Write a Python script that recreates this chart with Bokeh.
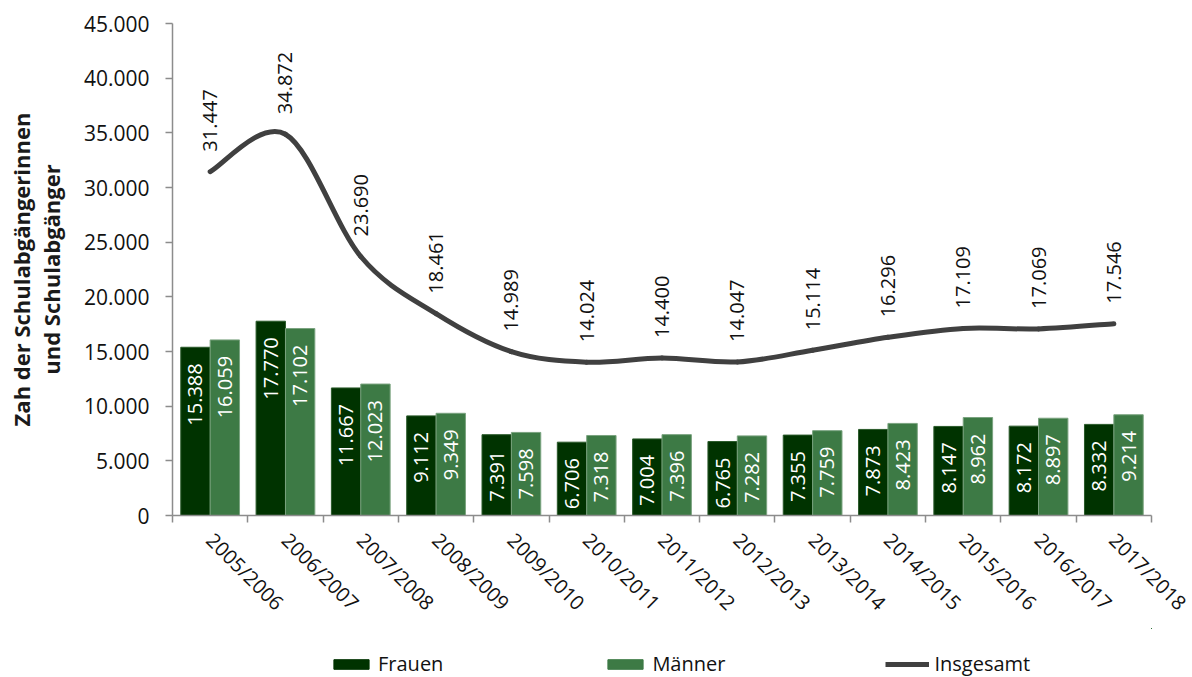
import math
import numpy as np
from bokeh.plotting import figure
from bokeh.layouts import column
from bokeh.models import (Range1d, FixedTicker, ColumnDataSource, Legend, LegendItem)
from bokeh.core.properties import value
from bokeh.embed import file_html
from bokeh.resources import INLINE

# ---- data ----
jahre = ["2005/2006", "2006/2007", "2007/2008", "2008/2009", "2009/2010", "2010/2011",
         "2011/2012", "2012/2013", "2013/2014", "2014/2015", "2015/2016", "2016/2017", "2017/2018"]
frauen = [15388, 17770, 11667, 9112, 7391, 6706, 7004, 6765, 7355, 7873, 8147, 8172, 8332]
maenner = [16059, 17102, 12023, 9349, 7598, 7318, 7396, 7282, 7759, 8423, 8962, 8897, 9214]
insgesamt = [31447, 34872, 23690, 18461, 14989, 14024, 14400, 14047, 15114, 16296, 17109, 17069, 17546]
y_ticks = [0, 5000, 10000, 15000, 20000, 25000, 30000, 35000, 40000, 45000]
series_names = ["Frauen", "Männer", "Insgesamt"]
y_title = ["Zah der Schulabgängerinnen", "und Schulabgänger"]


def fmt(v):
    return f"{v:,}".replace(",", ".")


FONT = "Open Sans"
C_F = "#003300"
C_M = "#3d7a45"
C_L = "#404040"
AX = "#8c8c8c"
TXT = "#111111"

n = len(jahre)
centers = [i + 0.5 for i in range(n)]
bounds = list(range(n + 1))

p = figure(width=1192, height=628, x_range=Range1d(0, n), y_range=Range1d(0, 45000),
           output_backend="svg", toolbar_location=None,
           min_border_left=172, min_border_right=41, min_border_top=23, min_border_bottom=113)
p.outline_line_color = None
p.xgrid.visible = False
p.ygrid.visible = False

# x axis
xa = p.xaxis[0]
xa.ticker = FixedTicker(ticks=centers, minor_ticks=bounds)
xa.major_label_overrides = {c: j for c, j in zip(centers, jahre)}
xa.major_tick_line_color = None
xa.minor_tick_in = 0
xa.minor_tick_out = 7
xa.minor_tick_line_color = AX
xa.minor_tick_line_width = 1.5
xa.axis_line_color = AX
xa.axis_line_width = 1.5
xa.major_label_orientation = -math.pi / 4
xa.major_label_standoff = 14
xa.major_label_text_font = FONT
xa.major_label_text_font_size = "20px"
xa.major_label_text_color = TXT

# y axis
ya = p.yaxis[0]
ya.ticker = FixedTicker(ticks=y_ticks)
ya.major_label_overrides = {t: fmt(t) for t in y_ticks}
ya.major_tick_in = 0
ya.major_tick_out = 7
ya.major_tick_line_color = AX
ya.major_tick_line_width = 1.5
ya.minor_tick_line_color = None
ya.axis_line_color = AX
ya.axis_line_width = 1.5
ya.major_label_standoff = 16
ya.major_label_text_font = FONT
ya.major_label_text_font_size = "21px"
ya.major_label_text_color = TXT
ya.axis_label = "\n".join(y_title)
ya.axis_label_text_font = FONT
ya.axis_label_text_font_size = "22px"
ya.axis_label_text_font_style = "bold"
ya.axis_label_text_color = "#1a1a1a"
ya.axis_label_standoff = 15
ya.axis_label_text_line_height = 1.0

# bars
bw = 0.39
src = ColumnDataSource(dict(
    xf=[c - bw / 2 for c in centers], xm=[c + bw / 2 for c in centers],
    frauen=frauen, maenner=maenner,
    lf=[fmt(v) for v in frauen], lm=[fmt(v) for v in maenner]))
p.vbar(x="xf", width=bw, top="frauen", bottom=0, source=src,
       fill_color=C_F, line_color="#2a5a2a", line_width=1)
p.vbar(x="xm", width=bw, top="maenner", bottom=0, source=src,
       fill_color=C_M, line_color="#7aa37f", line_width=1)
p.text(x="xf", y="frauen", text="lf", source=src, angle=math.pi / 2,
       text_align="right", text_baseline="middle", y_offset=16,
       text_color="white", text_font=value(FONT), text_font_size="20px")
p.text(x="xm", y="maenner", text="lm", source=src, angle=math.pi / 2,
       text_align="right", text_baseline="middle", y_offset=16,
       text_color="white", text_font=value(FONT), text_font_size="20px")

# smooth total line (cubic Bezier segments, Catmull-Rom control points)
xs = np.array(centers, dtype=float)
ys = np.array(insgesamt, dtype=float)
x0, y0, x1, y1, cx0, cy0, cx1, cy1 = [], [], [], [], [], [], [], []
for i in range(n - 1):
    xp, yp = (xs[i - 1], ys[i - 1]) if i > 0 else (xs[i], ys[i])
    xn, yn = (xs[i + 2], ys[i + 2]) if i + 2 < n else (xs[i + 1], ys[i + 1])
    x0.append(xs[i]); y0.append(ys[i]); x1.append(xs[i + 1]); y1.append(ys[i + 1])
    cx0.append(xs[i] + (xs[i + 1] - xp) / 6); cy0.append(ys[i] + (ys[i + 1] - yp) / 6)
    cx1.append(xs[i + 1] - (xn - xs[i]) / 6); cy1.append(ys[i + 1] - (yn - ys[i]) / 6)
bsrc = ColumnDataSource(dict(x0=x0, y0=y0, x1=x1, y1=y1, cx0=cx0, cy0=cy0, cx1=cx1, cy1=cy1))
p.bezier(x0="x0", y0="y0", x1="x1", y1="y1", cx0="cx0", cy0="cy0", cx1="cx1", cy1="cy1",
         source=bsrc, line_color=C_L, line_width=5, line_cap="round")

lsrc = ColumnDataSource(dict(x=centers, y=insgesamt, t=[fmt(v) for v in insgesamt]))
p.text(x="x", y="y", text="t", source=lsrc, angle=math.pi / 2,
       text_align="left", text_baseline="middle", y_offset=-20,
       text_color=TXT, text_font=value(FONT), text_font_size="20px")

# legend strip (separate small figure under the chart; its glyphs lie outside its ranges)
pl = figure(width=1192, height=49, x_range=Range1d(-100, -99), y_range=Range1d(-100, -99),
            output_backend="svg", toolbar_location=None,
            x_axis_location=None, y_axis_location=None, min_border=0)
pl.outline_line_color = None
pl.xgrid.visible = False
pl.ygrid.visible = False
legsrc = ColumnDataSource(dict(x=centers, f=frauen, m=maenner, t=insgesamt))
lf = pl.vbar(x="x", top="f", width=bw, source=legsrc, fill_color=C_F, line_color=C_F)
lm = pl.vbar(x="x", top="m", width=bw, source=legsrc, fill_color=C_M, line_color=C_M)
ll = pl.line(x="x", y="t", source=legsrc, line_color=C_L, line_width=5)
legend = Legend(items=[LegendItem(label=series_names[0], renderers=[lf]),
                       LegendItem(label=series_names[1], renderers=[lm]),
                       LegendItem(label=series_names[2], renderers=[ll])],
                orientation="horizontal", location=(157, 0),
                glyph_width=44, glyph_height=12, label_standoff=5, spacing=160,
                padding=0, margin=0, border_line_color=None, background_fill_alpha=0,
                label_text_font=FONT, label_text_font_size="20px", label_text_color=TXT)
pl.add_layout(legend, "center")

layout = column(p, pl, spacing=0)
open("out.html", "w").write(file_html(layout, INLINE))
